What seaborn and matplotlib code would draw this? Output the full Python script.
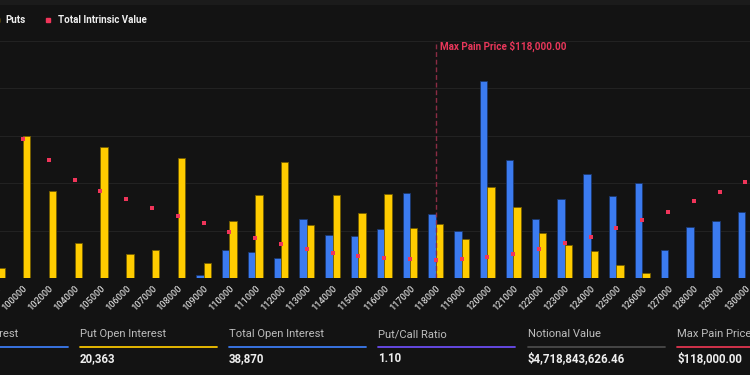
import numpy as np
import pandas as pd
import matplotlib
matplotlib.use("Agg")
import matplotlib.pyplot as plt
import seaborn as sns
from matplotlib.patches import Rectangle
from matplotlib.lines import Line2D


# %% data (open interest per strike, intrinsic value in $M)
strikes = ["98000", "100000", "102000", "104000", "105000", "106000", "107000",
           "108000", "109000", "110000", "111000", "112000", "113000", "114000",
           "115000", "116000", "117000", "118000", "119000", "120000", "121000",
           "122000", "123000", "124000", "125000", "126000", "127000", "128000",
           "129000", "130000", "132000"]
calls = [0, 0, 0, 0, 0, 0, 0, 0, 29, 299, 272, 211, 624, 451, 444, 521, 898,
         676, 494, 2075, 1250, 624, 832, 1102, 864, 1001, 296, 539, 606, 694, 420]
puts = [103, 1501, 916, 367, 1382, 257, 299, 1268, 155, 606, 880, 1226, 563,
        874, 690, 888, 528, 571, 409, 959, 747, 472, 349, 282, 137, 56, 0, 0,
        0, 0, 0]
intrinsic = [680, 587, 496, 412, 369, 333, 295, 261, 230, 196, 168, 144, 123,
             106, 93, 85, 80, 77, 82, 90, 103, 123, 147, 175, 209, 244, 280,
             323, 364, 405, 490]
max_pain = "118000"

stat_titles = ["Call Open Interest", "Put Open Interest", "Total Open Interest",
               "Put/Call Ratio", "Notional Value", "Max Pain Price"]
stat_values = ["18,507", "20,363", "38,870", "1.10", "$4,718,843,626.46",
               "$118,000.00"]
stat_colors = ["#3b7bf0", "#f5c400", "#3b7bf0", "#6a4cf0", "#4a4a4a", "#e0354f"]

BG = "#131313"
BLUE = "#3b7bf0"
YELLOW = "#ffcc00"
PINK = "#f0355a"


# %% long form table for seaborn
df = pd.DataFrame({
    "strike": strikes * 2,
    "oi": calls + puts,
    "type": ["Calls"] * len(strikes) + ["Puts"] * len(strikes),
})

sns.set_theme(style="dark")
plt.rcParams["font.family"] = ["Roboto", "DejaVu Sans"]

fig = plt.figure(figsize=(7.5, 3.75), dpi=100)
fig.patch.set_facecolor(BG)
fig.patches.append(Rectangle((0, 1 - 5 / 375), 1, 5 / 375, transform=fig.transFigure,
                             facecolor="#1b1b1b", edgecolor="none"))

# axes deliberately wider than the figure: the screenshot is a crop
ax = fig.add_axes([-40 / 750, 97 / 375, 830 / 750, 237 / 375])
ax.set_facecolor(BG)

sns.barplot(data=df, x="strike", y="oi", hue="type", order=strikes,
            hue_order=["Calls", "Puts"], palette=[BLUE, YELLOW],
            width=0.58, gap=0, saturation=1, legend=False, ax=ax)

for p in ax.patches:
    if p.get_height() == 0:
        p.set_visible(False)
        continue
    fc = np.array(p.get_facecolor()[:3])
    p.set_edgecolor(tuple(fc * 0.45))
    p.set_linewidth(0.6)

ax.set_ylim(0, 2500)
ax.set_yticks([0, 500, 1000, 1500, 2000, 2500])
ax.set_yticklabels([])
ax.tick_params(axis="y", length=0)
ax.grid(axis="y", color="#222222", linewidth=0.8)
ax.set_axisbelow(True)
ax.set_xlabel("")
ax.set_ylabel("")
for s in ax.spines.values():
    s.set_visible(False)

# intrinsic value on its own scale
ax2 = ax.twinx()
sns.stripplot(x=strikes, y=intrinsic, order=strikes, jitter=False, marker="s",
              size=3.4, color=PINK, linewidth=0, ax=ax2)
ax2.set_ylim(0, 1000)
ax2.set_yticks([])
ax2.set_ylabel("")
for s in ax2.spines.values():
    s.set_visible(False)

ax.set_xlim(-1.442, 30.729)
ax2.set_xlim(-1.442, 30.729)
ax.set_xticks(range(len(strikes)))
ax.set_xticklabels(strikes, rotation=45, ha="right", rotation_mode="anchor",
                   fontsize=6.6, color="#d2d2d2", fontweight="medium")
ax.tick_params(axis="x", length=0, pad=4)

# max pain marker
mp = strikes.index(max_pain)
ax.axvline(mp, color="#8a2c44", linewidth=1, dashes=(3.5, 2), ymax=1.0)
ax.text(mp + 0.15, 2440, "Max Pain Price $118,000.00", color="#e8375a",
        fontsize=7.1, fontweight="bold", va="center", ha="left")

# legend strip on top (partly cut off on the left like the screenshot)
leg_y = 1 - 20 / 375
for mx, col, tx, label in [(-58, BLUE, -50, "Calls"), (-3, YELLOW, 5, "Puts"),
                           (48, PINK, 58, "Total Intrinsic Value")]:
    fig.add_artist(Line2D([mx / 750], [leg_y], marker="s", markersize=2.8,
                          color=col, linestyle="none", transform=fig.transFigure))
    fig.text(tx / 750, leg_y, label, color="#eeeeee", fontsize=7,
             fontweight="bold", va="center", ha="left")

# stat row under the chart
for i, (t, v, c) in enumerate(zip(stat_titles, stat_values, stat_colors)):
    x0 = (-69.5 + 149.3 * i) / 750
    fig.text(x0, 1 - 334 / 375, t, color="#bdbdbd", fontsize=8.1, va="center",
             ha="left")
    fig.add_artist(Line2D([x0, x0 + 137 / 750], [1 - 346.5 / 375] * 2, color=c,
                          linewidth=1.3, transform=fig.transFigure))
    fig.text(x0, 1 - 359 / 375, v, color="#eeeeee", fontsize=8.3,
             fontweight="bold", va="center", ha="left")

plt.savefig("out.png", dpi=100, facecolor=BG)
